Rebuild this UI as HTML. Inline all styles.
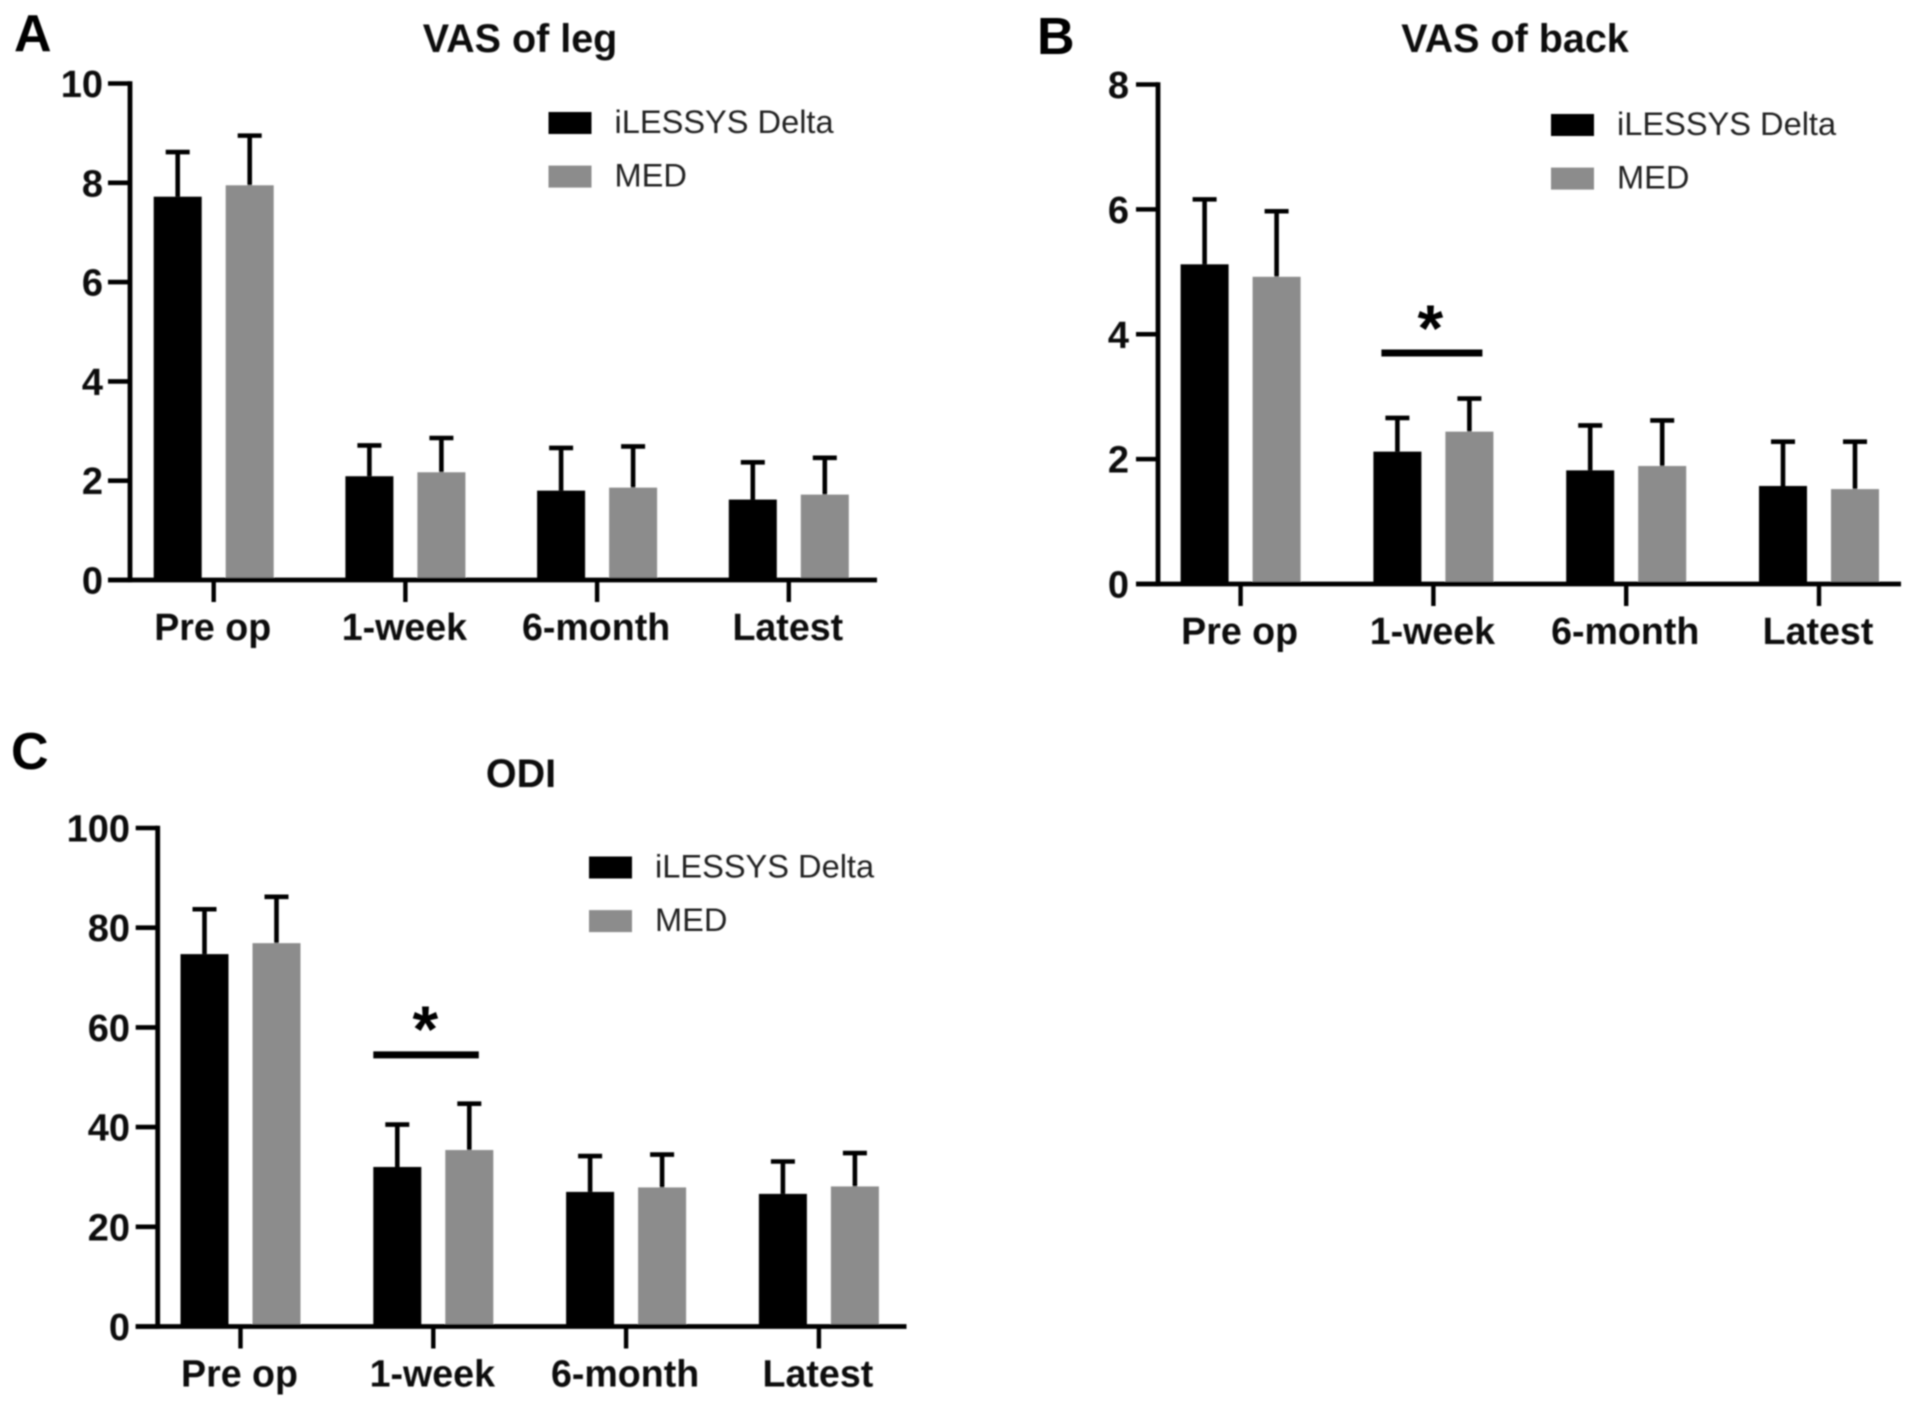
<!DOCTYPE html>
<html lang="en">
<head>
<meta charset="utf-8">
<title>VAS and ODI comparison charts</title>
<style>
  html, body { margin: 0; padding: 0; background: #fff; }
  #figure { display: block; width: 1913px; height: 1408px; }
  text { font-family: "Liberation Sans", Arial, sans-serif; }
</style>
</head>
<body>
<svg id="figure" xmlns="http://www.w3.org/2000/svg" width="1913" height="1408" viewBox="0 0 1913 1408">
  <defs><filter id="soft" x="-2%" y="-2%" width="104%" height="104%"><feGaussianBlur stdDeviation="0.8"/></filter></defs>
  <rect width="1913" height="1408" fill="#fff"/>
  <g id="root" filter="url(#soft)"></g>
</svg>
<script>
const categories = ['Pre op', '1-week', '6-month', 'Latest'];
const seriesNames = ['iLESSYS Delta', 'MED'];

const legTicks = [0, 2, 4, 6, 8, 10];
const legDeltaMean = [7.72, 2.09, 1.8, 1.62];
const legDeltaUpper = [8.62, 2.71, 2.66, 2.37];
const legMedMean = [7.95, 2.17, 1.86, 1.72];
const legMedUpper = [8.95, 2.86, 2.69, 2.46];

const backTicks = [0, 2, 4, 6, 8];
const backDeltaMean = [5.12, 2.12, 1.82, 1.57];
const backDeltaUpper = [6.16, 2.66, 2.54, 2.28];
const backMedMean = [4.92, 2.44, 1.89, 1.52];
const backMedUpper = [5.97, 2.97, 2.62, 2.28];

const odiTicks = [0, 20, 40, 60, 80, 100];
const odiDeltaMean = [74.7, 32, 27, 26.6];
const odiDeltaUpper = [83.7, 40.5, 34.2, 33.1];
const odiMedMean = [76.9, 35.4, 27.9, 28.1];
const odiMedUpper = [86.2, 44.7, 34.5, 34.8];

const backSignificanceLevel = 3.7;
const odiSignificanceLevel = 54.5;

const SVG_NS = 'http://www.w3.org/2000/svg';
const BLACK = '#000';
const GRAY = '#8c8c8c';

function shape(parent, tag, attrs) {
  const el = document.createElementNS(SVG_NS, tag);
  for (const k in attrs) el.setAttribute(k, attrs[k]);
  parent.appendChild(el);
  return el;
}

function drawPanel(cfg) {
  const root = document.getElementById('root');
  const g = shape(root, 'g', {});
  
  

  const yScale = v => cfg.y0 - (v / cfg.yMax) * (cfg.y0 - cfg.yTop);
  const xScale = i => cfg.x0 + i * cfg.xStep;

  const letter = shape(g, 'text', { x: cfg.letterX, y: cfg.letterY, 'font-size': 52, 'font-weight': 700, fill: '#000' });
  letter.textContent = cfg.letter;
  
  

  const title = shape(g, 'text', { x: cfg.titleX, y: cfg.titleY, 'font-size': 39.5, 'font-weight': 700, fill: '#111', 'text-anchor': 'middle' });
  title.textContent = cfg.title;
  
  

  // bars and whiskers
  const series = [
    { mean: cfg.deltaMean, upper: cfg.deltaUpper, fill: BLACK, off: -36, key: 'delta' },
    { mean: cfg.medMean, upper: cfg.medUpper, fill: GRAY, off: 36, key: 'med' }
  ];
  series.forEach(s => {
    s.mean.forEach((v, i) => {
      const cx = xScale(i) + s.off;
      const stem = shape(g, 'line', { x1: cx, x2: cx, y1: yScale(v), y2: yScale(s.upper[i]), stroke: '#000', 'stroke-width': 4.6 });
      
      
      const cap = shape(g, 'line', { x1: cx - 12, x2: cx + 12, y1: yScale(s.upper[i]), y2: yScale(s.upper[i]), stroke: '#000', 'stroke-width': 4.6 });
      
      
      const bar = shape(g, 'rect', { x: cx - 24, y: yScale(v), width: 48, height: cfg.y0 - yScale(v), fill: s.fill });
      
      
    });
  });

  // y axis
  const yAxis = shape(g, 'line', { x1: cfg.axisX, x2: cfg.axisX, y1: yScale(cfg.yMax) - 2.3, y2: cfg.y0 + 2.3, stroke: '#000', 'stroke-width': 4.8 });
  
  
  cfg.ticks.forEach(t => {
    const tick = shape(g, 'line', { x1: cfg.axisX - 22, x2: cfg.axisX, y1: yScale(t), y2: yScale(t), stroke: '#000', 'stroke-width': 4.6 });
    
    
    const label = shape(g, 'text', { x: cfg.yLabelX, y: yScale(t) + 13.5, 'font-size': 38, 'font-weight': 700, fill: '#111', 'text-anchor': 'end' });
    label.textContent = t;
    
    
  });

  // x axis
  const xAxis = shape(g, 'line', { x1: cfg.axisX - 22, x2: cfg.xEnd, y1: cfg.y0, y2: cfg.y0, stroke: '#000', 'stroke-width': 4.8 });
  
  
  categories.forEach((c, i) => {
    const tick = shape(g, 'line', { x1: xScale(i), x2: xScale(i), y1: cfg.y0, y2: cfg.y0 + 22, stroke: '#000', 'stroke-width': 4.4 });
    
    
    const label = shape(g, 'text', { x: xScale(i) - 1, y: cfg.y0 + 60, 'font-size': 37.6, 'font-weight': 700, fill: '#111', 'text-anchor': 'middle' });
    label.textContent = c;
    
    
  });

  // legend
  seriesNames.forEach((n, i) => {
    const top = cfg.legendY + i * 53.6;
    const swatch = shape(g, 'rect', { x: cfg.legendX, y: top, width: 43, height: 22, fill: i === 0 ? BLACK : GRAY });
    
    
    const label = shape(g, 'text', { x: cfg.legendX + 66, y: top + 20.8, 'font-size': 32.6, fill: '#222' });
    label.textContent = n;
    
    
  });

  // significance marker
  if (cfg.sigLevel !== undefined) {
    const yS = yScale(cfg.sigLevel);
    const sx = xScale(1);
    const sig = shape(g, 'line', { x1: sx + cfg.sigLeft, x2: sx + cfg.sigRight, y1: yS, y2: yS, stroke: '#000', 'stroke-width': 7 });
    
    
    const star = shape(g, 'text', { x: sx + cfg.starDx, y: yS - cfg.starUp, 'font-size': 66, 'font-weight': 700, fill: '#000', 'text-anchor': 'middle' });
    star.textContent = '*';
    
    
  }
}

drawPanel({
  name: 'panel-a-vas-of-leg', letter: 'A', letterX: 14, letterY: 51,
  title: 'VAS of leg', titleX: 520, titleY: 52,
  axisX: 130, y0: 580, yTop: 83.5, yMax: 10, ticks: legTicks, yLabelX: 103,
  x0: 213.7, xStep: 191.7, xEnd: 877,
  deltaMean: legDeltaMean, deltaUpper: legDeltaUpper, medMean: legMedMean, medUpper: legMedUpper,
  legendX: 548.5, legendY: 112
});

drawPanel({
  name: 'panel-b-vas-of-back', letter: 'B', letterX: 1037, letterY: 54,
  title: 'VAS of back', titleX: 1515, titleY: 52,
  axisX: 1158, y0: 584, yTop: 84.5, yMax: 8, ticks: backTicks, yLabelX: 1129,
  x0: 1240.6, xStep: 192.8, xEnd: 1901,
  deltaMean: backDeltaMean, deltaUpper: backDeltaUpper, medMean: backMedMean, medUpper: backMedUpper,
  legendX: 1551, legendY: 114,
  sigLevel: backSignificanceLevel, sigLeft: -52, sigRight: 49, starDx: -3, starUp: 2
});

drawPanel({
  name: 'panel-c-odi', letter: 'C', letterX: 11, letterY: 769,
  title: 'ODI', titleX: 521, titleY: 787,
  axisX: 157.7, y0: 1326.5, yTop: 828, yMax: 100, ticks: odiTicks, yLabelX: 130,
  x0: 240.5, xStep: 192.8, xEnd: 906.5,
  deltaMean: odiDeltaMean, deltaUpper: odiDeltaUpper, medMean: odiMedMean, medUpper: odiMedUpper,
  legendX: 589, legendY: 856.5,
  sigLevel: odiSignificanceLevel, sigLeft: -60, sigRight: 45.5, starDx: -8, starUp: 3
});
</script>
</body>
</html>
